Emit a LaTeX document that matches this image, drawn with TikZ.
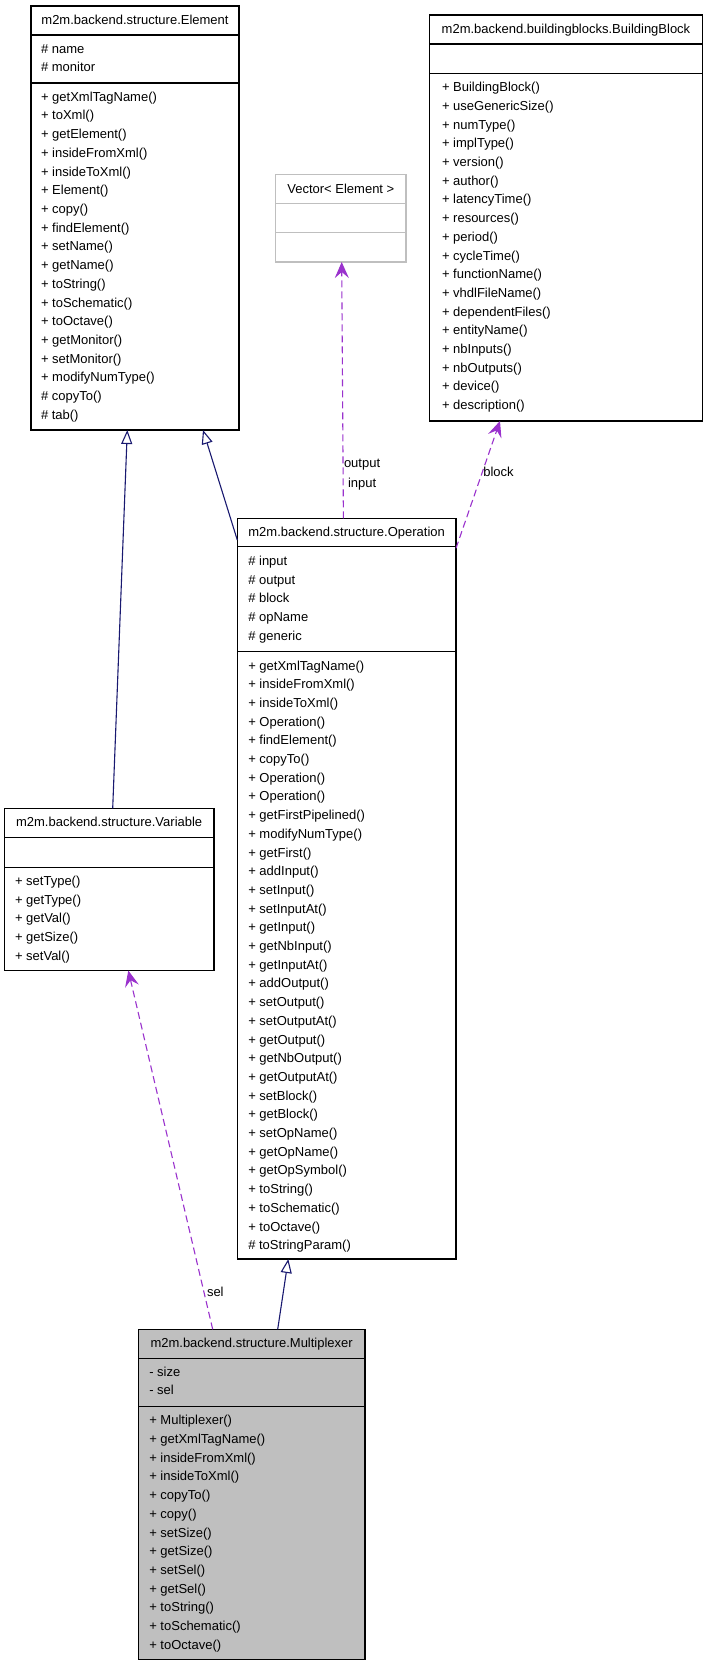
\documentclass[tikz,border=0pt]{standalone}
\usepackage{fontspec}
\setmainfont{Liberation Sans}
\usetikzlibrary{arrows.meta,calc}
\definecolor{navy}{HTML}{191970}
\definecolor{orchid}{HTML}{9A32CD}
\definecolor{boxgray}{HTML}{BFBFBF}
\tikzset{
 txt/.style={inner sep=0pt, outer sep=0pt, font=\fontsize{13}{15}\selectfont, anchor=base west},
 ttl/.style={inner sep=0pt, outer sep=0pt, font=\fontsize{13}{15}\selectfont, anchor=base},
 cls/.style={draw=black, line width=1.3pt, inner sep=0pt, outer sep=0pt, anchor=north west},
 divl/.style={draw=black, line width=1.3pt},
 inherit/.style={draw=navy, line width=1.1pt, -{Triangle[length=14pt,width=11pt,fill=white]}},
 depend/.style={draw=orchid, line width=1.1pt, dash pattern=on 7pt off 4pt, -{Stealth[length=16pt,width=14pt,inset=6pt]}},
 lbl/.style={inner sep=0pt, outer sep=0pt, font=\fontsize{13}{15}\selectfont, anchor=base west},
}
% [opts]{name}{left}{top}{right}{bottom}{div1}{div2}
\newcommand\classbox[8][]{%
 \node[cls,#1, minimum width={(#5-(#3))*1pt}, minimum height={(#6-(#4))*1pt}] (#2) at (#3,#4) {};
 \draw[divl,#1] (#3,#7) -- (#5,#7);
 \draw[divl,#1] (#3,#8) -- (#5,#8);
}
% {prefix}{x}{first baseline}{list}
\newcommand\itemlist[4]{%
 \foreach \t [count=\i from 0] in {#4} {\node[txt] (#1-\i) at (#2,{#3+\i*18.7}) {\t};}
}
\begin{document}
\begin{tikzpicture}[x=1pt,y=-1pt]
\useasboundingbox (0,0) rectangle (708,1667);
\fill[white] (0,0) rectangle (708,1667);

% Element
\classbox{elem}{31}{6}{239}{430}{35}{83}
\node[ttl] (elem-title) at (135,25) {m2m.backend.structure.Element};
\itemlist{elema}{41}{53.3}{\# name,\# monitor}
\itemlist{elemm}{41}{101.3}{+ getXmlTagName(),+ toXml(),+ getElement(),+ insideFromXml(),+ insideToXml(),+ Element(),+ copy(),+ findElement(),+ setName(),+ getName(),+ toString(),+ toSchematic(),+ toOctave(),+ getMonitor(),+ setMonitor(),+ modifyNumType(),\# copyTo(),\# tab()}

% Vector
\classbox[draw=boxgray]{vec}{275.7}{174.3}{406}{262}{203.3}{232.7}
\node[ttl] (vec-title) at (340.85,193.3) {Vector< Element >};

% BuildingBlock
\classbox{bb}{429.3}{15}{702.7}{421}{44}{73.3}
\node[ttl] (bb-title) at (566,34) {m2m.backend.buildingblocks.BuildingBlock};
\itemlist{bbm}{442}{91.7}{+ BuildingBlock(),+ useGenericSize(),+ numType(),+ implType(),+ version(),+ author(),+ latencyTime(),+ resources(),+ period(),+ cycleTime(),+ functionName(),+ vhdlFileName(),+ dependentFiles(),+ entityName(),+ nbInputs(),+ nbOutputs(),+ device(),+ description()}

% Operation
\classbox{op}{237.3}{518.3}{456}{1259}{546.7}{651.7}
\node[ttl] (op-title) at (346.65,536) {m2m.backend.structure.Operation};
\itemlist{opa}{248.3}{565.3}{\# input,\# output,\# block,\# opName,\# generic}
\itemlist{opm}{248.3}{670}{+ getXmlTagName(),+ insideFromXml(),+ insideToXml(),+ Operation(),+ findElement(),+ copyTo(),+ Operation(),+ Operation(),+ getFirstPipelined(),+ modifyNumType(),+ getFirst(),+ addInput(),+ setInput(),+ setInputAt(),+ getInput(),+ getNbInput(),+ getInputAt(),+ addOutput(),+ setOutput(),+ setOutputAt(),+ getOutput(),+ getNbOutput(),+ getOutputAt(),+ setBlock(),+ getBlock(),+ setOpName(),+ getOpName(),+ getOpSymbol(),+ toString(),+ toSchematic(),+ toOctave(),\# toStringParam()}

% Variable
\classbox{var}{4.3}{808.3}{214}{970.5}{837.3}{867.3}
\node[ttl] (var-title) at (109.15,826.8) {m2m.backend.structure.Variable};
\itemlist{varm}{15}{885.3}{+ setType(),+ getType(),+ getVal(),+ getSize(),+ setVal()}

% Multiplexer
\classbox[fill=boxgray]{mux}{138.3}{1329.3}{365}{1659.3}{1358.3}{1406.7}
\node[ttl] (mux-title) at (251.65,1347.8) {m2m.backend.structure.Multiplexer};
\itemlist{muxa}{149.3}{1376}{- size,- sel}
\itemlist{muxm}{149.3}{1424.8}{+ Multiplexer(),+ getXmlTagName(),+ insideFromXml(),+ insideToXml(),+ copyTo(),+ copy(),+ setSize(),+ getSize(),+ setSel(),+ getSel(),+ toString(),+ toSchematic(),+ toOctave()}

% Connectors
\draw[inherit] ($(var.north west)+(108.4,0)$) -- ($(elem.south west)+(96.3,0)$);
\draw[inherit] ($(op.north west)+(0,21.7)$) -- ($(elem.south west)+(172,0)$);
\draw[inherit] ($(mux.north west)+(139.4,0)$) -- ($(op.south west)+(51,0)$);
\draw[depend] ($(mux.north west)+(74.4,0)$) -- ($(var.south west)+(124,0)$);
\draw[depend] ($(op.north west)+(106.1,0)$) -- ($(vec.south west)+(66,0)$);
\draw[depend] ($(op.north east)+(0,30)$) -- ($(bb.south west)+(70.7,0)$);

% Labels
\node[lbl] (lbl-output) at (344,467.5) {output};
\node[lbl] (lbl-input) at (348,487) {input};
\node[lbl] (lbl-block) at (483.3,476.6) {block};
\node[lbl] (lbl-sel) at (207,1296.3) {sel};
\end{tikzpicture}
\end{document}
